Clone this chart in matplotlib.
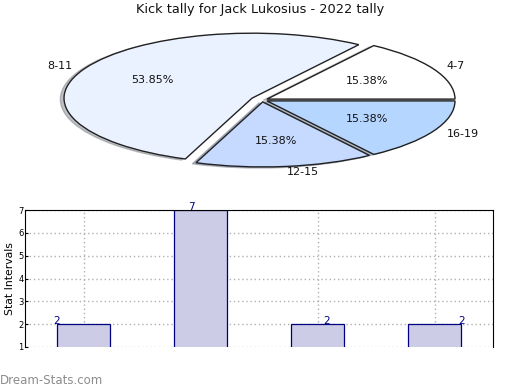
import matplotlib.pyplot as plt

# kick tally data
groups = ["4-7", "8-11", "12-15", "16-19"]
counts = [2, 7, 2, 2]
slice_colors = ["#FFFFFF", "#EBF2FF", "#C6D9FF", "#B5D6FF"]
explode = [0.03, 0.06, 0.03, 0.03]
y_ticks = [1, 2, 3, 4, 5, 6, 7]

fig = plt.figure(figsize=(5.2, 3.9), dpi=100)

# pie, squashed into an ellipse by using different x/y scales
ax_pie = fig.add_axes([0, 0, 1, 1])
ax_pie.pie(
    counts,
    labels=groups,
    colors=slice_colors,
    explode=explode,
    startangle=0,
    counterclock=True,
    autopct="%.2f%%",
    pctdistance=0.6,
    labeldistance=1.08,
    shadow={"ox": -0.014, "oy": -0.012, "shade": 0.45},
    wedgeprops={"edgecolor": "#222222", "linewidth": 1.0},
    textprops={"fontsize": 8, "color": "#111111"},
)
ax_pie.set_aspect("auto")
ax_pie.set_xlim(-262 / 188, 258 / 188)
ax_pie.set_ylim(-290 / 65, 100 / 65)
ax_pie.axis("off")

fig.text(0.5, 1 - 10 / 390, "Kick tally for Jack Lukosius - 2022 tally",
         ha="center", va="center", fontsize=9.3, color="#111111")

# bar chart
ax_bar = fig.add_axes([25 / 520, 43 / 390, 468 / 520, 137 / 390])
x = list(range(len(counts)))
ax_bar.bar(x, counts, width=0.45, color="#CCCCE6", edgecolor="#000080",
           linewidth=0.9, zorder=2)
for i, c in enumerate(counts):
    ax_bar.text(i * 1.155 - 0.23, c - 0.08, str(c), ha="center", va="bottom",
                fontsize=7.5, color="#000080", clip_on=False, zorder=3)

ax_bar.set_xlim(-0.5, 3.5)
ax_bar.set_ylim(1, 7)
ax_bar.set_yticks(y_ticks)
ax_bar.set_xticks(x)
ax_bar.set_xticklabels([])
ax_bar.tick_params(axis="x", length=0)
ax_bar.tick_params(axis="y", labelsize=6, length=2, pad=1, direction="in")
ax_bar.grid(True, linestyle=(0, (1, 2)), color="#B0B0B0", linewidth=1.0, zorder=0)
ax_bar.set_axisbelow(True)
ax_bar.spines["bottom"].set_visible(False)
ax_bar.set_ylabel("Stat Intervals", fontsize=7.8, labelpad=2)

fig.text(0.0, 1 - 380 / 390, "Dream-Stats.com", ha="left", va="center",
         fontsize=8.5, color="#8C8C8C")

fig.savefig("out.png", dpi=100)
